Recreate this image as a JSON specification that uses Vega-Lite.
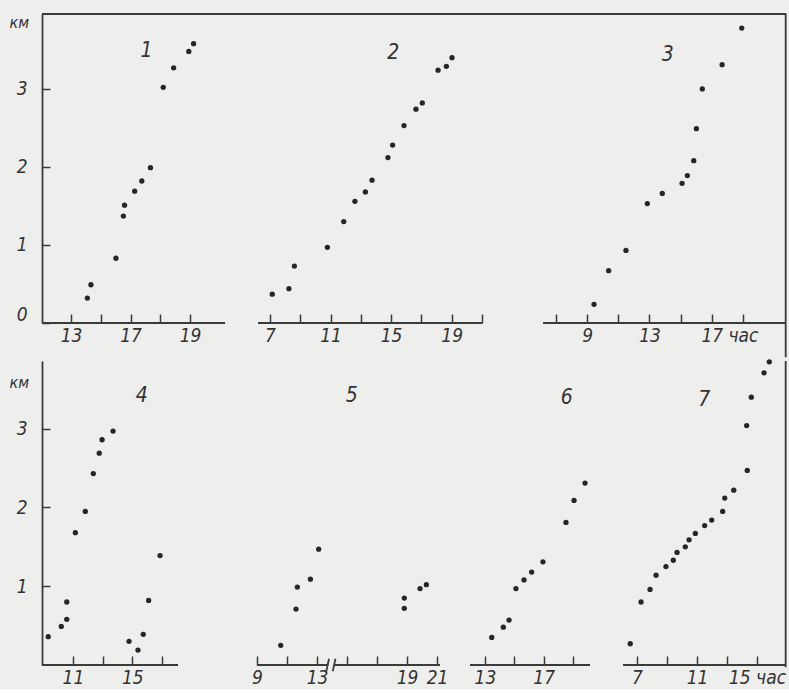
{
  "$schema": "https://vega.github.io/schema/vega-lite/v6.json",
  "background": "#eeeeec",
  "padding": {"left": 9, "top": 12, "right": 2, "bottom": 2},
  "bounds": "full",
  "spacing": 0,
  "config": {
    "view": {"stroke": null},
    "font": "Liberation Sans Narrow, DejaVu Sans Condensed, Liberation Sans, sans-serif",
    "axis": {
      "grid": false,
      "domainColor": "#3a3a3a",
      "domainWidth": 1.8,
      "tickColor": "#3a3a3a",
      "tickWidth": 1.5,
      "tickSize": -9,
      "labelFont": "Liberation Sans Narrow, DejaVu Sans Condensed, Liberation Sans, sans-serif",
      "labelFontSize": 19,
      "labelFontStyle": "italic",
      "labelColor": "#333333",
      "labelFlush": false,
      "labelOverlap": false,
      "titleFont": "Liberation Sans Narrow, DejaVu Sans Condensed, Liberation Sans, sans-serif",
      "titleFontSize": 16,
      "titleFontStyle": "italic",
      "titleFontWeight": "normal",
      "titleColor": "#333333"
    }
  },
  "datasets": {
    "g": [
      {"p":1,"k":"p","h":15.55,"km":0.32},{"p":1,"k":"p","h":15.67,"km":0.49},{"p":1,"k":"p","h":16.51,"km":0.83},{"p":1,"k":"p","h":16.76,"km":1.37},{"p":1,"k":"p","h":16.80,"km":1.51},{"p":1,"k":"p","h":17.14,"km":1.69},{"p":1,"k":"p","h":17.38,"km":1.82},{"p":1,"k":"p","h":17.67,"km":1.99},{"p":1,"k":"p","h":18.10,"km":3.02},{"p":1,"k":"p","h":18.45,"km":3.27},{"p":1,"k":"p","h":18.96,"km":3.48},{"p":1,"k":"p","h":19.12,"km":3.58},
      {"p":2,"k":"p","h":7.15,"km":0.37},{"p":2,"k":"p","h":8.25,"km":0.44},{"p":2,"k":"p","h":8.61,"km":0.73},{"p":2,"k":"p","h":10.79,"km":0.97},{"p":2,"k":"p","h":11.87,"km":1.30},{"p":2,"k":"p","h":12.61,"km":1.56},{"p":2,"k":"p","h":13.30,"km":1.68},{"p":2,"k":"p","h":13.74,"km":1.83},{"p":2,"k":"p","h":14.79,"km":2.12},{"p":2,"k":"p","h":15.10,"km":2.28},{"p":2,"k":"p","h":15.85,"km":2.53},{"p":2,"k":"p","h":16.64,"km":2.74},{"p":2,"k":"p","h":17.06,"km":2.82},{"p":2,"k":"p","h":18.10,"km":3.24},{"p":2,"k":"p","h":18.65,"km":3.29},{"p":2,"k":"p","h":19.02,"km":3.40},
      {"p":3,"k":"p","h":9.44,"km":0.24},{"p":3,"k":"p","h":10.38,"km":0.67},{"p":3,"k":"p","h":11.49,"km":0.93},{"p":3,"k":"p","h":12.86,"km":1.53},{"p":3,"k":"p","h":13.82,"km":1.66},{"p":3,"k":"p","h":15.09,"km":1.79},{"p":3,"k":"p","h":15.43,"km":1.89},{"p":3,"k":"p","h":15.84,"km":2.08},{"p":3,"k":"p","h":16.01,"km":2.49},{"p":3,"k":"p","h":16.39,"km":3.00},{"p":3,"k":"p","h":17.66,"km":3.31},{"p":3,"k":"p","h":18.92,"km":3.78},
      {"p":4,"k":"p","h":9.33,"km":0.36},{"p":4,"k":"p","h":10.21,"km":0.49},{"p":4,"k":"p","h":10.58,"km":0.58},{"p":4,"k":"p","h":10.58,"km":0.80},{"p":4,"k":"p","h":11.16,"km":1.68},{"p":4,"k":"p","h":11.83,"km":1.95},{"p":4,"k":"p","h":12.37,"km":2.43},{"p":4,"k":"p","h":12.77,"km":2.69},{"p":4,"k":"p","h":12.96,"km":2.86},{"p":4,"k":"p","h":13.70,"km":2.97},{"p":4,"k":"p","h":14.78,"km":0.30},{"p":4,"k":"p","h":15.38,"km":0.19},{"p":4,"k":"p","h":15.74,"km":0.39},{"p":4,"k":"p","h":16.10,"km":0.82},{"p":4,"k":"p","h":16.87,"km":1.39},
      {"p":5,"k":"p","h":10.58,"km":0.25},{"p":5,"k":"p","h":11.60,"km":0.71},{"p":5,"k":"p","h":11.69,"km":0.99},{"p":5,"k":"p","h":12.56,"km":1.09},{"p":5,"k":"p","h":13.11,"km":1.47},{"p":5,"k":"p","h":18.82,"km":0.72},{"p":5,"k":"p","h":18.82,"km":0.85},{"p":5,"k":"p","h":19.87,"km":0.97},{"p":5,"k":"p","h":20.29,"km":1.02},
      {"p":6,"k":"p","h":13.46,"km":0.35},{"p":6,"k":"p","h":14.25,"km":0.48},{"p":6,"k":"p","h":14.64,"km":0.57},{"p":6,"k":"p","h":15.11,"km":0.97},{"p":6,"k":"p","h":15.66,"km":1.08},{"p":6,"k":"p","h":16.18,"km":1.18},{"p":6,"k":"p","h":16.95,"km":1.31},{"p":6,"k":"p","h":18.52,"km":1.81},{"p":6,"k":"p","h":19.07,"km":2.09},{"p":6,"k":"p","h":19.82,"km":2.31},
      {"p":7,"k":"p","h":6.55,"km":0.27},{"p":7,"k":"p","h":7.27,"km":0.80},{"p":7,"k":"p","h":7.87,"km":0.96},{"p":7,"k":"p","h":8.27,"km":1.14},{"p":7,"k":"p","h":8.93,"km":1.25},{"p":7,"k":"p","h":9.42,"km":1.33},{"p":7,"k":"p","h":9.67,"km":1.43},{"p":7,"k":"p","h":10.22,"km":1.50},{"p":7,"k":"p","h":10.47,"km":1.59},{"p":7,"k":"p","h":10.89,"km":1.67},{"p":7,"k":"p","h":11.51,"km":1.77},{"p":7,"k":"p","h":11.98,"km":1.84},{"p":7,"k":"p","h":12.71,"km":1.95},{"p":7,"k":"p","h":12.85,"km":2.12},{"p":7,"k":"p","h":13.45,"km":2.22},{"p":7,"k":"p","h":14.35,"km":2.47},{"p":7,"k":"p","h":14.31,"km":3.04},{"p":7,"k":"p","h":14.62,"km":3.40},{"p":7,"k":"p","h":15.47,"km":3.71},{"p":7,"k":"p","h":15.82,"km":3.85},
      {"p":1,"k":"n","h":17.54,"km":3.48,"t":"1"},{"p":2,"k":"n","h":15.14,"km":3.46,"t":"2"},{"p":3,"k":"n","h":14.17,"km":3.44,"t":"3"},{"p":4,"k":"n","h":15.63,"km":3.41,"t":"4"},{"p":5,"k":"n","h":15.31,"km":3.41,"t":"5"},{"p":6,"k":"n","h":18.57,"km":3.39,"t":"6"},{"p":7,"k":"n","h":11.49,"km":3.37,"t":"7"},
      {"p":1,"k":"l","h":14.03,"h2":20.18,"km":0,"km2":0},{"p":1,"k":"l","h":14.025,"h2":20.714,"km":3.96,"km2":3.96},
      {"p":2,"k":"l","h":6.21,"h2":21.0,"km":0,"km2":0},{"p":2,"k":"l","h":5.085,"h2":23.05,"km":3.96,"km2":3.96},
      {"p":3,"k":"l","h":6.17,"h2":21.76,"km":0,"km2":0},{"p":3,"k":"l","h":4.24,"h2":21.76,"km":3.96,"km2":3.96},{"p":3,"k":"l","h":21.74,"h2":21.74,"km":-0.44,"km2":3.97},
      {"p":4,"k":"l","h":8.91,"h2":18.08,"km":0,"km2":0},
      {"p":5,"k":"l","h":9.0,"h2":13.75,"km":0,"km2":0},{"p":5,"k":"l","h":14.2,"h2":21.2,"km":0,"km2":0},{"p":5,"k":"l","h":13.62,"h2":13.8,"km":-0.08,"km2":0.08},{"p":5,"k":"l","h":14.05,"h2":14.23,"km":-0.08,"km2":0.08},
      {"p":6,"k":"l","h":11.98,"h2":20.16,"km":0,"km2":0},
      {"p":7,"k":"l","h":6.07,"h2":16.93,"km":0,"km2":0},{"p":7,"k":"l","h":16.91,"h2":16.91,"km":-0.03,"km2":3.86}
    ]
  },
  "vconcat": [
    {
      "bounds": "flush",
      "spacing": 0,
      "hconcat": [
        {
          "width": 199, "height": 309,
          "data": {"name": "g"},
          "transform": [{"filter": "datum.p == 1"}],
          "encoding": {
            "x": {"field": "h", "type": "quantitative", "scale": {"domain": [14.025, 20.714], "nice": false, "zero": false},
                  "axis": {"values": [15,16,17,18,19], "domain": false, "labelPadding": 12, "title": null,
                           "labelExpr": "datum.value == 15 ? '13' : datum.value == 17 ? '17' : datum.value == 19 ? '19' : ''"}},
            "y": {"field": "km", "type": "quantitative", "scale": {"domain": [0, 3.96], "nice": false, "zero": false},
                  "axis": {"values": [0,1,2,3], "domain": true, "tickSize": -8, "labelPadding": 23,
                           "labelOffset": {"condition": {"test": "datum.value == 0", "value": -9}, "value": 0},
                           "title": "км", "titleAngle": 0, "titleX": -33, "titleY": 8, "titleAlign": "left", "titleBaseline": "middle"}}
          },
          "layer": [
            {"transform": [{"filter": "datum.k == 'l'"}], "mark": {"type": "rule", "color": "#3a3a3a", "strokeWidth": 1.8}, "encoding": {"x2": {"field": "h2"}, "y2": {"field": "km2"}}},
            {"transform": [{"filter": "datum.k == 'p'"}], "mark": {"type": "circle", "size": 28, "color": "#262626", "opacity": 1}},
            {"transform": [{"filter": "datum.k == 'n'"}], "mark": {"type": "text", "fontStyle": "italic", "fontSize": 21, "color": "#333333"}, "encoding": {"text": {"field": "t"}}}
          ]
        },
        {
          "width": 272, "height": 309,
          "data": {"name": "g"},
          "transform": [{"filter": "datum.p == 2"}],
          "encoding": {
            "x": {"field": "h", "type": "quantitative", "scale": {"domain": [5.085, 23.05], "nice": false, "zero": false},
                  "axis": {"values": [7,9,11,13,15,17,19,21], "domain": false, "labelPadding": 12, "title": null,
                           "labelExpr": "datum.value == 7 || datum.value == 11 || datum.value == 15 || datum.value == 19 ? datum.label : ''"}},
            "y": {"field": "km", "type": "quantitative", "scale": {"domain": [0, 3.96], "nice": false, "zero": false}, "axis": null}
          },
          "layer": [
            {"transform": [{"filter": "datum.k == 'l'"}], "mark": {"type": "rule", "color": "#3a3a3a", "strokeWidth": 1.8}, "encoding": {"x2": {"field": "h2"}, "y2": {"field": "km2"}}},
            {"transform": [{"filter": "datum.k == 'p'"}], "mark": {"type": "circle", "size": 28, "color": "#262626", "opacity": 1}},
            {"transform": [{"filter": "datum.k == 'n'"}], "mark": {"type": "text", "fontStyle": "italic", "fontSize": 21, "color": "#333333"}, "encoding": {"text": {"field": "t"}}}
          ]
        },
        {
          "width": 273, "height": 309,
          "data": {"name": "g"},
          "transform": [{"filter": "datum.p == 3"}],
          "encoding": {
            "x": {"field": "h", "type": "quantitative", "scale": {"domain": [4.24, 21.76], "nice": false, "zero": false},
                  "axis": {"values": [7,9,11,13,15,17,19], "domain": false, "labelPadding": 12, "title": null,
                           "labelExpr": "datum.value == 9 || datum.value == 13 || datum.value == 17 ? datum.label : datum.value == 19 ? 'час' : ''"}},
            "y": {"field": "km", "type": "quantitative", "scale": {"domain": [0, 3.96], "nice": false, "zero": false}, "axis": null}
          },
          "layer": [
            {"transform": [{"filter": "datum.k == 'l'"}], "mark": {"type": "rule", "color": "#3a3a3a", "strokeWidth": 1.8}, "encoding": {"x2": {"field": "h2"}, "y2": {"field": "km2"}}},
            {"transform": [{"filter": "datum.k == 'p'"}], "mark": {"type": "circle", "size": 28, "color": "#262626", "opacity": 1}},
            {"transform": [{"filter": "datum.k == 'n'"}], "mark": {"type": "text", "fontStyle": "italic", "fontSize": 21, "color": "#333333"}, "encoding": {"text": {"field": "t"}}}
          ]
        }
      ]
    },
    {
      "bounds": "flush",
      "spacing": 0,
      "hconcat": [
        {
          "width": 175, "height": 304,
          "data": {"name": "g"},
          "transform": [{"filter": "datum.p == 4"}],
          "encoding": {
            "x": {"field": "h", "type": "quantitative", "scale": {"domain": [8.91, 20.71], "nice": false, "zero": false},
                  "axis": {"values": [11,13,15,17], "domain": false, "labelPadding": 12, "title": null,
                           "labelExpr": "datum.value == 11 || datum.value == 15 ? datum.label : ''"}},
            "y": {"field": "km", "type": "quantitative", "scale": {"domain": [0, 3.86], "nice": false, "zero": false},
                  "axis": {"values": [1,2,3], "domain": true, "tickSize": -8, "labelPadding": 23,
                           "title": "км", "titleAngle": 0, "titleX": -33, "titleY": 21, "titleAlign": "left", "titleBaseline": "middle"}}
          },
          "layer": [
            {"transform": [{"filter": "datum.k == 'l'"}], "mark": {"type": "rule", "color": "#3a3a3a", "strokeWidth": 1.8}, "encoding": {"x2": {"field": "h2"}, "y2": {"field": "km2"}}},
            {"transform": [{"filter": "datum.k == 'p'"}], "mark": {"type": "circle", "size": 28, "color": "#262626", "opacity": 1}},
            {"transform": [{"filter": "datum.k == 'n'"}], "mark": {"type": "text", "fontStyle": "italic", "fontSize": 21, "color": "#333333"}, "encoding": {"text": {"field": "t"}}}
          ]
        },
        {
          "width": 238, "height": 304,
          "data": {"name": "g"},
          "transform": [{"filter": "datum.p == 5"}],
          "encoding": {
            "x": {"field": "h", "type": "quantitative", "scale": {"domain": [6.333, 22.2], "nice": false, "zero": false},
                  "axis": {"values": [9,11,13,15,17,19,21], "domain": false, "labelPadding": 12, "title": null,
                           "labelExpr": "datum.value == 9 || datum.value == 13 || datum.value == 19 || datum.value == 21 ? datum.label : ''"}},
            "y": {"field": "km", "type": "quantitative", "scale": {"domain": [0, 3.86], "nice": false, "zero": false}, "axis": null}
          },
          "layer": [
            {"transform": [{"filter": "datum.k == 'l'"}], "mark": {"type": "rule", "color": "#3a3a3a", "strokeWidth": 1.8}, "encoding": {"x2": {"field": "h2"}, "y2": {"field": "km2"}}},
            {"transform": [{"filter": "datum.k == 'p'"}], "mark": {"type": "circle", "size": 28, "color": "#262626", "opacity": 1}},
            {"transform": [{"filter": "datum.k == 'n'"}], "mark": {"type": "text", "fontStyle": "italic", "fontSize": 21, "color": "#333333"}, "encoding": {"text": {"field": "t"}}}
          ]
        },
        {
          "width": 151, "height": 304,
          "data": {"name": "g"},
          "transform": [{"filter": "datum.p == 6"}],
          "encoding": {
            "x": {"field": "h", "type": "quantitative", "scale": {"domain": [10.955, 21.25], "nice": false, "zero": false},
                  "axis": {"values": [13,15,17,19], "domain": false, "labelPadding": 12, "title": null,
                           "labelExpr": "datum.value == 13 || datum.value == 17 ? datum.label : ''"}},
            "y": {"field": "km", "type": "quantitative", "scale": {"domain": [0, 3.86], "nice": false, "zero": false}, "axis": null}
          },
          "layer": [
            {"transform": [{"filter": "datum.k == 'l'"}], "mark": {"type": "rule", "color": "#3a3a3a", "strokeWidth": 1.8}, "encoding": {"x2": {"field": "h2"}, "y2": {"field": "km2"}}},
            {"transform": [{"filter": "datum.k == 'p'"}], "mark": {"type": "circle", "size": 28, "color": "#262626", "opacity": 1}},
            {"transform": [{"filter": "datum.k == 'n'"}], "mark": {"type": "text", "fontStyle": "italic", "fontSize": 21, "color": "#333333"}, "encoding": {"text": {"field": "t"}}}
          ]
        },
        {
          "width": 180, "height": 304,
          "data": {"name": "g"},
          "transform": [{"filter": "datum.p == 7"}],
          "encoding": {
            "x": {"field": "h", "type": "quantitative", "scale": {"domain": [4.933, 16.933], "nice": false, "zero": false},
                  "axis": {"values": [7,9,11,13,15], "domain": false, "labelPadding": 12, "title": null,
                           "labelExpr": "datum.value == 7 || datum.value == 11 ? datum.label : datum.value == 15 ? '15 час' : ''"}},
            "y": {"field": "km", "type": "quantitative", "scale": {"domain": [0, 3.86], "nice": false, "zero": false}, "axis": null}
          },
          "layer": [
            {"transform": [{"filter": "datum.k == 'l'"}], "mark": {"type": "rule", "color": "#3a3a3a", "strokeWidth": 1.8}, "encoding": {"x2": {"field": "h2"}, "y2": {"field": "km2"}}},
            {"transform": [{"filter": "datum.k == 'p'"}], "mark": {"type": "circle", "size": 28, "color": "#262626", "opacity": 1}},
            {"transform": [{"filter": "datum.k == 'n'"}], "mark": {"type": "text", "fontStyle": "italic", "fontSize": 21, "color": "#333333"}, "encoding": {"text": {"field": "t"}}}
          ]
        }
      ]
    }
  ]
}
